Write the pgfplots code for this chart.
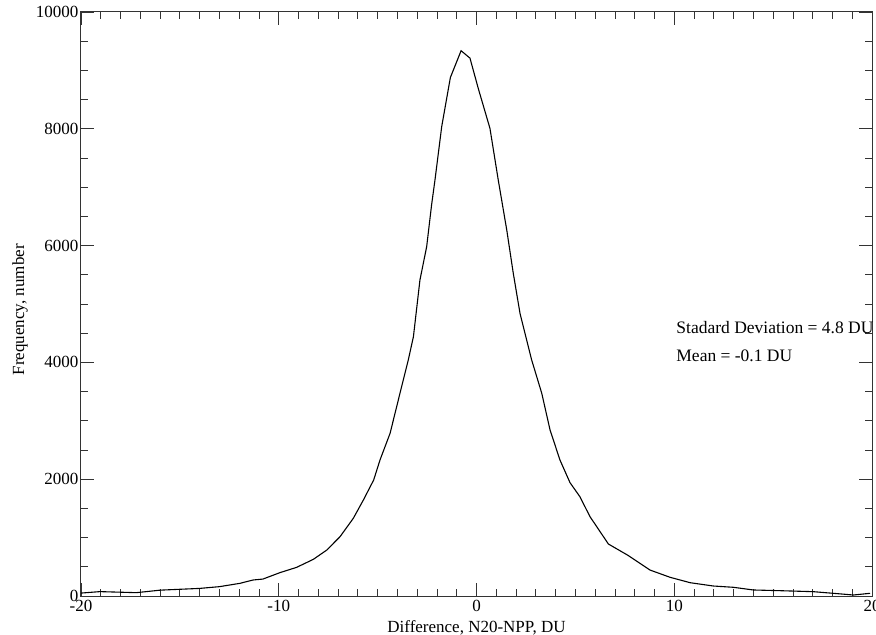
\documentclass[border=0pt]{standalone}
\usepackage{fontspec}
\setmainfont{Liberation Serif}
\usepackage{pgfplots}
\pgfplotsset{compat=1.18}
\begin{document}
\begin{tikzpicture}
\begin{axis}[
  at={(0,0)}, anchor=south west,
  scale only axis, width=791bp, height=584bp,
  xmin=-20, xmax=20, ymin=0, ymax=10000,
  xtick={-20,-10,0,10,20}, ytick={0,2000,4000,6000,8000,10000},
  minor x tick num=9, minor y tick num=3,
  tick align=inside,
  major tick length=13bp, minor tick length=7bp,
  axis line style={black!80, line width=1bp},
  every tick/.style={black!80, line width=0.8bp},
  scaled y ticks=false,
  /pgf/number format/assume math mode=true,
  yticklabel style={/pgf/number format/1000 sep={}, xshift=1bp},
  xticklabel style={yshift=-1bp},
  ticklabel style={font=\fontsize{17bp}{20bp}\selectfont},
  label style={font=\fontsize{17bp}{20bp}\selectfont},
  xlabel={Difference, N20-NPP, DU},
  ylabel={Frequency, number},
  xlabel style={at={(axis description cs:0.5,0)}, anchor=center, yshift=-32bp},
  ylabel style={at={(axis description cs:0,0.49)}, anchor=center, yshift=61bp},
  clip=false,
]
\addplot[black, line width=1.1bp] coordinates {
(-20,50) (-19.04,75) (-17.2,57) (-16,100) (-14,130) (-13,160) (-11.96,217)
(-11.3,274) (-10.8,290) (-9.94,400) (-9.1,490) (-8.25,628) (-7.57,787)
(-6.9,1016) (-6.23,1330) (-5.72,1644) (-5.2,1986) (-4.88,2329) (-4.37,2786)
(-3.87,3471) (-3.45,4041) (-3.19,4440) (-2.86,5411) (-2.52,5981) (-2.27,6700)
(-2.1,7123) (-1.76,8036) (-1.32,8880) (-0.78,9337) (-0.33,9210) (0.09,8690)
(0.68,8008) (1.1,7123) (1.53,6267) (1.86,5525) (2.2,4840) (2.79,4041)
(3.3,3471) (3.72,2842) (4.22,2329) (4.73,1940) (5.23,1700) (5.74,1358)
(6.67,890) (7.63,702) (8.77,445) (9.79,320) (10.8,228) (11.98,171)
(12.99,149) (14,103) (15.35,91) (17.03,74) (18.04,46) (19.06,17) (19.9,46)
};
\node[anchor=west, inner sep=0pt, font=\fontsize{17.5bp}{20bp}\selectfont] at (axis cs:10.1,4600) {Stadard Deviation = 4.8 DU};
\node[anchor=west, inner sep=0pt, font=\fontsize{17.5bp}{20bp}\selectfont] at (axis cs:10.1,4110) {Mean = -0.1 DU};
\end{axis}
\pgfresetboundingbox
\path (-81bp,-39bp) rectangle (795bp,596bp);
\end{tikzpicture}
\end{document}
